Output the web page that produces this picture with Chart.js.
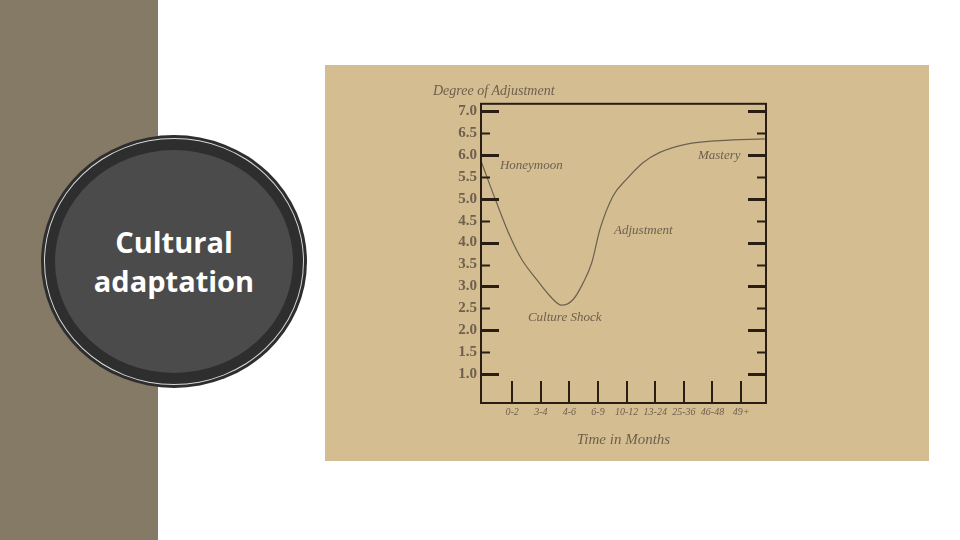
<!DOCTYPE html>
<html>
<head>
<meta charset="utf-8">
<script src="https://cdn.jsdelivr.net/npm/chart.js@4.4.0/dist/chart.umd.min.js"></script>
<style>
  body { margin: 0; width: 960px; height: 540px; background: #fff; position: relative; overflow: hidden; font-family: "Open Sans", sans-serif; }
  #band { position: absolute; left: 0; top: 0; width: 158px; height: 540px; background: #857a66; }
  #ring { position: absolute; left: 41px; top: 135px; width: 266px; height: 253px; border-radius: 50%; background: #2e2e2e; }
  #line { position: absolute; left: 3px; top: 3px; right: 3px; bottom: 3px; border-radius: 50%; border: 1px solid #d8d8d8; box-sizing: border-box; }
  #disc { position: absolute; left: 14px; top: 15px; right: 14px; bottom: 15px; border-radius: 50%; background: #4b4b4b; }
  #label { position: absolute; left: 41px; width: 266px; top: 222px; text-align: center; color: #fff; font-size: 29px; font-weight: 700; line-height: 39px; }
  #panel { position: absolute; left: 325px; top: 65px; width: 604px; height: 396px; background: #d4bd91; }
</style>
</head>
<body>
<div id="band"></div>
<div id="ring"><div id="line"></div><div id="disc"></div></div>
<div id="label">Cultural<br>adaptation</div>
<div id="panel"><canvas id="curve" width="604" height="396"></canvas></div>
<script>
// x categories (months) and y tick labels
var months = ['0-2', '3-4', '4-6', '6-9', '10-12', '13-24', '25-36', '46-48', '49+'];
var yLabels = ['1.0', '1.5', '2.0', '2.5', '3.0', '3.5', '4.0', '4.5', '5.0', '5.5', '6.0', '6.5', '7.0'];

// adjustment curve (x in category index units)
var curveX = [-1.07, -0.55, -0.08, 0.33, 0.85, 1.32, 1.73, 2.13, 2.48, 2.78, 3.07, 3.53, 4.0, 4.58, 5.16, 6.10, 7.26, 8.83];
var curveY = [5.83, 4.92, 4.15, 3.62, 3.16, 2.78, 2.57, 2.70, 3.08, 3.54, 4.31, 5.07, 5.45, 5.83, 6.06, 6.25, 6.33, 6.37];

var phases = ['Honeymoon', 'Culture Shock', 'Adjustment', 'Mastery'];
var phaseX = [-0.43, 0.55, 3.56, 6.49];
var phaseY = [5.75, 2.29, 4.28, 5.98];

var ink = '#2a1e14';
var textCol = '#6e604e';

var decor = {
    id: 'decor',
    afterDatasetsDraw: function (chart) {
        var ctx = chart.ctx, a = chart.chartArea;
        var xs = chart.scales.x, ys = chart.scales.y;
        ctx.save();
        ctx.strokeStyle = ink;
        ctx.lineWidth = 2;
        ctx.strokeRect(a.left, a.top, a.right - a.left, a.bottom - a.top);
        // y ticks inside both edges
        yLabels.forEach(function (l) {
            var v = parseFloat(l);
            var py = Math.round(ys.getPixelForValue(v)) + 0.5;
            var major = v % 1 === 0;
            var len = major ? 18 : 9;
            ctx.lineWidth = major ? 3 : 2;
            ctx.beginPath();
            ctx.moveTo(a.left, py); ctx.lineTo(a.left + len, py);
            ctx.moveTo(a.right, py); ctx.lineTo(a.right - len, py);
            ctx.stroke();
        });
        // x ticks up from the bottom
        ctx.lineWidth = 2;
        months.forEach(function (m, i) {
            var px = Math.round(xs.getPixelForValue(i));
            ctx.beginPath();
            ctx.moveTo(px, a.bottom); ctx.lineTo(px, a.bottom - 22);
            ctx.stroke();
        });
        // phase names
        ctx.fillStyle = textCol;
        ctx.font = 'italic 13px "Liberation Serif"';
        ctx.textAlign = 'left';
        ctx.textBaseline = 'middle';
        phases.forEach(function (p, i) {
            ctx.fillText(p, xs.getPixelForValue(phaseX[i]), ys.getPixelForValue(phaseY[i]));
        });
        ctx.restore();
    }
};

var ctx = document.getElementById('curve').getContext('2d');
var chart = new Chart(ctx, {
    type: 'line',
    data: {
        datasets: [{
            data: curveX.map(function (x, i) { return { x: x, y: curveY[i] }; }),
            borderColor: '#6b6150',
            borderWidth: 1.2,
            pointRadius: 0,
            cubicInterpolationMode: 'monotone',
            fill: false
        }]
    },
    options: {
        responsive: false,
        animation: false,
        layout: { padding: { left: 108, right: 163, top: 0, bottom: 0 } },
        plugins: {
            legend: { display: false },
            tooltip: { enabled: false },
            title: {
                display: true,
                text: 'Degree of Adjustment',
                align: 'start',
                color: textCol,
                font: { family: 'Liberation Serif', style: 'italic', weight: 'normal', size: 14 },
                padding: { top: 18, bottom: 4 }
            }
        },
        scales: {
            x: {
                type: 'linear',
                min: -1.09,
                max: 8.87,
                afterFit: function (s) { s.height = 58; },
                afterBuildTicks: function (s) {
                    s.ticks = months.map(function (m, i) { return { value: i }; });
                },
                grid: { display: false, drawTicks: false },
                border: { display: false },
                ticks: {
                    padding: 3,
                    color: textCol,
                    font: { family: 'Liberation Serif', style: 'italic', size: 10 },
                    maxRotation: 0,
                    autoSkip: false,
                    callback: function (v) { return months[v]; }
                },
                title: {
                    display: true,
                    text: 'Time in Months',
                    color: textCol,
                    font: { family: 'Liberation Serif', style: 'italic', size: 15 },
                    padding: { top: 12, bottom: 12 }
                }
            },
            y: {
                min: 0.337,
                max: 7.17,
                afterFit: function (s) { s.width = 48; },
                afterBuildTicks: function (s) {
                    s.ticks = yLabels.map(function (l) { return { value: parseFloat(l) }; });
                },
                grid: { display: false, drawTicks: false },
                border: { display: false },
                ticks: {
                    padding: 4,
                    color: textCol,
                    font: { family: 'Liberation Serif', weight: 'bold', size: 15 },
                    autoSkip: false,
                    callback: function (v) { return v.toFixed(1); }
                }
            }
        }
    },
    plugins: [decor]
});
</script>
</body>
</html>
